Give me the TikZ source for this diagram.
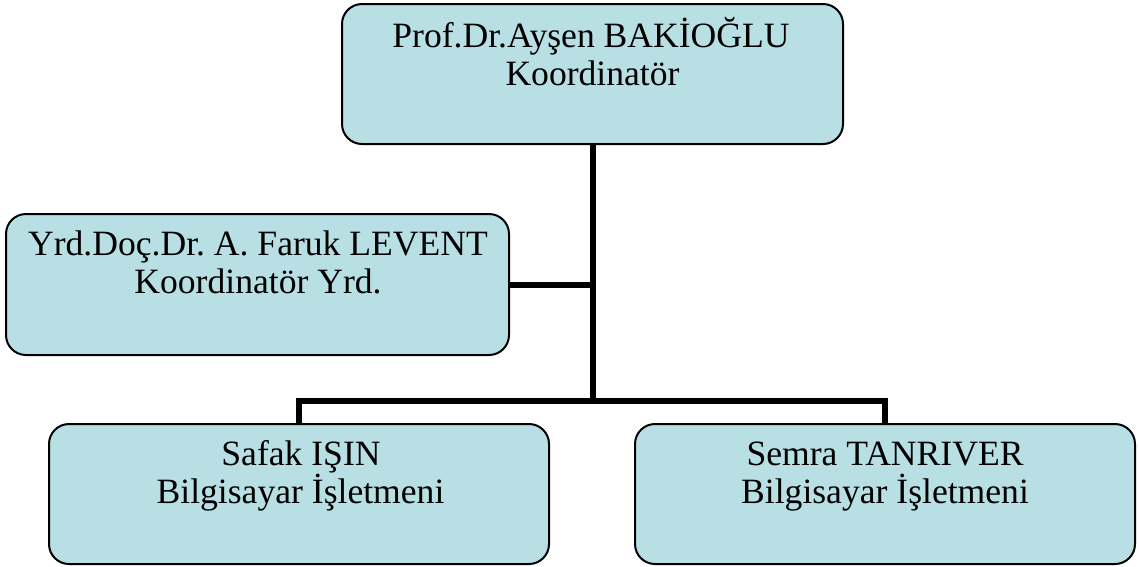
\documentclass[tikz,border=0pt]{standalone}
\usepackage{fontspec}
\setmainfont{Liberation Serif}
\definecolor{boxfill}{HTML}{B8DFE3}
\frenchspacing
\begin{document}
\begin{tikzpicture}[x=1pt,y=-1pt,
  orgbox/.style={draw=black, line width=2pt, fill=boxfill, rounded corners=20pt,
    minimum height=140pt, inner sep=0pt, outer sep=0pt},
  txt/.style={anchor=base, inner sep=0pt, font=\fontsize{35.6}{38}\selectfont},
  conn/.style={draw=black, line width=6pt, line join=miter}]
\useasboundingbox (0,0) rectangle (1139,566);
% boxes
\node[orgbox, minimum width=501pt] (top) at (592.5,74) {};
\node[orgbox, minimum width=503pt, minimum height=141pt] (lt) at (257.5,284.5) {};
\node[orgbox, minimum width=500pt] (bl) at (299,494) {};
\node[orgbox, minimum width=500pt] (br) at (885,494) {};
% texts
\node[txt] (t1) at (591,47) {Prof.Dr.Ayşen BAKİOĞLU};
\node[txt] (t2) at (592.5,85) {Koordinatör};
\node[txt] (l1) at (258,255) {Yrd.Doç.Dr. A. Faruk LEVENT};
\node[txt] (l2) at (258,293) {Koordinatör Yrd.};
\node[txt] (b1) at (301,465) {Safak IŞIN};
\node[txt] (b2) at (300.5,503) {Bilgisayar İşletmeni};
\node[txt] (r1) at (885,465) {Semra TANRIVER};
\node[txt] (r2) at (885,503) {Bilgisayar İşletmeni};
% connectors
\coordinate (bus) at (593,401);
\draw[conn] (top.south) -- (top.south |- bus);
\draw[conn] (lt.east) -- (lt.east -| top.south);
\draw[conn] (bl.north) -- (bl.north |- bus) -- (br.north |- bus) -- (br.north);
\end{tikzpicture}
\end{document}
